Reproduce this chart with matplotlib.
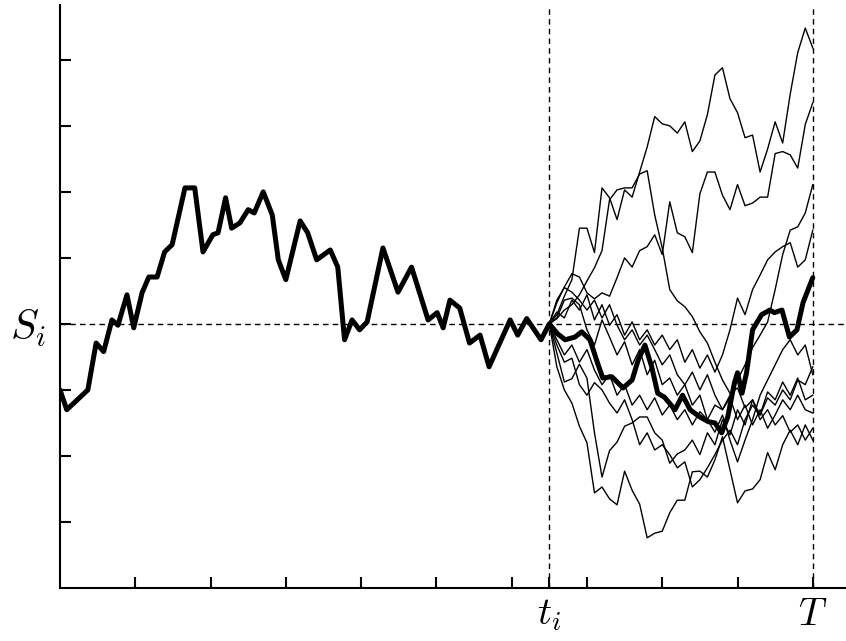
import numpy as np
import matplotlib
matplotlib.use("Agg")
import matplotlib.pyplot as plt

plt.rcParams['mathtext.fontset'] = 'cm'

# times (T = 10, t_i = 6.5) and the level S_i = 4, in tick units
t_i = 6.5
T = 10.0
S_i = 4.0

# the realised path, 0 .. T
path_t = [0.00, 0.09, 0.37, 0.48, 0.58, 0.69, 0.77, 0.89, 0.98, 1.09, 1.18, 1.29, 1.39, 1.49,
          1.66, 1.79, 1.90, 2.03, 2.10, 2.20, 2.28, 2.39, 2.50, 2.58, 2.70, 2.82, 2.90, 3.00,
          3.19, 3.29, 3.41, 3.59, 3.69, 3.78, 3.88, 3.98, 4.08, 4.29, 4.49, 4.67, 4.89, 5.01,
          5.09, 5.18, 5.31, 5.44, 5.58, 5.70, 5.98, 6.08, 6.20, 6.39, 6.50,
          6.61, 6.71, 6.84, 6.93, 7.04, 7.14, 7.21, 7.33, 7.48, 7.60, 7.68, 7.77, 7.86, 7.94,
          8.03, 8.17, 8.27, 8.37, 8.50, 8.61, 8.70, 8.79, 8.87, 8.96, 9.00, 9.06, 9.12, 9.20,
          9.32, 9.43, 9.49, 9.59, 9.69, 9.79, 9.87, 10.00]
path_s = [3.00, 2.70, 3.00, 3.71, 3.58, 4.06, 3.98, 4.44, 3.94, 4.47, 4.71, 4.71, 5.09, 5.20,
          6.06, 6.06, 5.09, 5.35, 5.38, 5.91, 5.45, 5.53, 5.73, 5.68, 6.00, 5.65, 4.97, 4.67,
          5.56, 5.38, 4.97, 5.12, 4.86, 3.76, 4.06, 3.91, 4.03, 5.15, 4.48, 4.86, 4.06, 4.17,
          3.94, 4.36, 4.24, 3.71, 3.83, 3.35, 4.06, 3.83, 4.08, 3.76, 4.00,
          3.85, 3.76, 3.80, 3.88, 3.76, 3.41, 3.18, 3.20, 3.03, 3.15, 3.45, 3.68, 3.35, 2.95,
          2.89, 2.70, 2.92, 2.70, 2.59, 2.52, 2.50, 2.35, 2.59, 3.11, 3.26, 2.95, 3.26, 3.91,
          4.14, 4.21, 4.17, 4.21, 3.80, 3.91, 4.32, 4.70]

# simulated paths from t_i to T, one value every 0.1
sim_t = np.round(np.arange(6.5, 10.001, 0.1), 2)
sim_a = [4.00, 4.14, 4.42, 4.67, 5.45, 5.45, 5.08, 6.06, 5.91, 5.58, 6.03, 5.92, 6.30, 6.68,
         7.14, 7.03, 7.00, 6.89, 7.06, 6.61, 6.77, 7.17, 7.77, 7.88, 7.41, 7.20, 6.82, 6.86,
         6.30, 6.65, 7.06, 6.74, 7.48, 8.11, 8.48, 8.18]
sim_b = [4.00, 4.08, 4.21, 4.29, 4.44, 4.65, 4.85, 5.11, 5.88, 6.03, 6.06, 6.06, 6.27, 6.32,
         5.65, 5.15, 4.52, 4.35, 4.26, 4.11, 3.88, 3.71, 3.42, 3.15, 2.95, 3.03, 2.73, 2.85,
         2.55, 2.70, 2.47, 2.61, 2.36, 2.47, 2.24, 2.42]
sim_c = [4.00, 4.32, 4.56, 4.76, 4.71, 4.47, 4.38, 4.47, 4.42, 4.70, 5.00, 4.86, 5.11, 5.17,
         5.35, 5.05, 5.85, 5.38, 5.32, 5.08, 5.97, 6.30, 6.30, 5.95, 5.73, 6.11, 5.79, 5.83,
         5.92, 5.92, 6.58, 6.61, 6.56, 6.36, 7.02, 7.35]
sim_d = [4.00, 3.76, 3.53, 3.68, 3.42, 3.61, 3.30, 3.08, 3.23, 2.92, 3.08, 2.77, 2.92, 2.70,
         2.88, 2.62, 2.77, 2.55, 2.70, 2.47, 2.67, 2.55, 2.77, 2.70, 2.92, 3.15, 3.38, 3.64,
         3.83, 4.03, 4.52, 5.05, 5.42, 5.47, 5.68, 6.11]
sim_e = [4.00, 4.18, 4.09, 4.36, 4.21, 4.44, 4.06, 4.29, 3.98, 4.14, 3.83, 4.03, 3.76, 3.91,
         3.68, 3.83, 3.61, 3.76, 3.42, 3.61, 3.33, 3.53, 3.27, 3.53, 3.91, 4.39, 4.14, 4.52,
         4.74, 4.97, 5.09, 5.17, 5.23, 4.86, 4.97, 5.42]
sim_f = [4.00, 3.35, 3.00, 2.80, 2.45, 2.20, 1.44, 1.53, 1.35, 1.26, 1.77, 1.48, 1.27, 0.76,
         0.83, 0.86, 1.14, 1.33, 1.33, 1.76, 1.77, 1.68, 1.94, 2.29, 1.79, 1.29, 1.47, 1.50,
         1.64, 2.05, 1.79, 2.17, 2.39, 2.17, 2.47, 2.24]
sim_g = [4.00, 3.56, 3.12, 3.17, 3.39, 3.18, 2.35, 1.68, 2.08, 2.21, 2.45, 2.50, 2.59, 2.59,
         2.35, 2.24, 1.89, 2.03, 2.09, 2.24, 2.02, 2.35, 2.17, 2.55, 2.32, 2.70, 2.47, 2.85,
         2.62, 2.88, 2.77, 3.00, 2.85, 3.15, 3.08, 3.35]
sim_h = [4.00, 3.68, 3.42, 3.48, 3.08, 2.92, 3.11, 3.00, 2.80, 2.65, 2.85, 2.55, 2.17, 2.35,
         2.09, 2.17, 2.02, 1.82, 1.91, 1.53, 1.64, 1.82, 2.02, 2.24, 2.39, 2.17, 2.55, 2.77,
         2.62, 2.97, 2.85, 3.12, 2.92, 3.18, 2.85, 2.92]
sim_i = [4.00, 4.36, 4.55, 4.48, 4.36, 4.21, 4.36, 4.09, 4.29, 3.98, 3.76, 3.91, 3.68, 3.83,
         3.61, 3.38, 3.53, 3.23, 3.08, 3.27, 3.00, 3.23, 2.92, 2.70, 2.88, 2.55, 2.77, 2.47,
         2.70, 2.42, 2.62, 2.85, 2.70, 2.92, 2.70, 2.65]
sim_j = [4.00, 4.09, 4.36, 4.39, 4.29, 3.91, 3.68, 4.06, 3.80, 3.53, 3.73, 3.38, 3.61, 3.23,
         3.45, 3.08, 3.18, 2.92, 3.08, 2.77, 2.92, 2.55, 2.36, 2.62, 2.24, 1.91, 2.24, 2.55,
         2.92, 3.15, 3.38, 3.61, 3.76, 3.53, 3.68, 3.23]
sims = [sim_a, sim_b, sim_c, sim_d, sim_e, sim_f, sim_g, sim_h, sim_i, sim_j]

fig = plt.figure(figsize=(8.46, 6.41), dpi=100)
ax = fig.add_axes([0.0709, 0.0827, 0.929, 0.9095])

for s in sims:
    ax.plot(sim_t, s, color='black', lw=1.0, zorder=2)
ax.plot(path_t, path_s, color='black', lw=3.6, solid_joinstyle='round',
        solid_capstyle='round', zorder=3)

dash = (0, (4, 3))
ax.axhline(S_i, color='black', lw=1.0, linestyle=dash, zorder=1)
ax.axvline(t_i, color='black', lw=1.0, linestyle=dash, zorder=1)
ax.axvline(T, color='black', lw=1.0, linestyle=dash, zorder=1)

ax.set_xlim(0, 10.44)
ax.set_ylim(0, 8.83)

for side in ['top', 'right']:
    ax.spines[side].set_visible(False)
for side in ['left', 'bottom']:
    ax.spines[side].set_linewidth(1.5)

yt = [1, 2, 3, 4, 5, 6, 7, 8]
ax.set_yticks(yt)
ax.set_yticklabels([r'$S_i$' if v == S_i else '' for v in yt], fontsize=30)
xt = [1, 2, 3, 4, 5, 6, t_i, 7, 8, 9, 10]
xl = []
for v in xt:
    if v == t_i:
        xl.append(r'$t_i$')
    elif v == T:
        xl.append(r'$T$')
    else:
        xl.append('')
ax.set_xticks(xt)
ax.set_xticklabels(xl, fontsize=28)
ax.tick_params(axis='y', direction='in', length=8, width=1.5, pad=10)
ax.tick_params(axis='x', direction='in', length=8, width=1.5, pad=5)

fig.savefig('out.png', dpi=100)
